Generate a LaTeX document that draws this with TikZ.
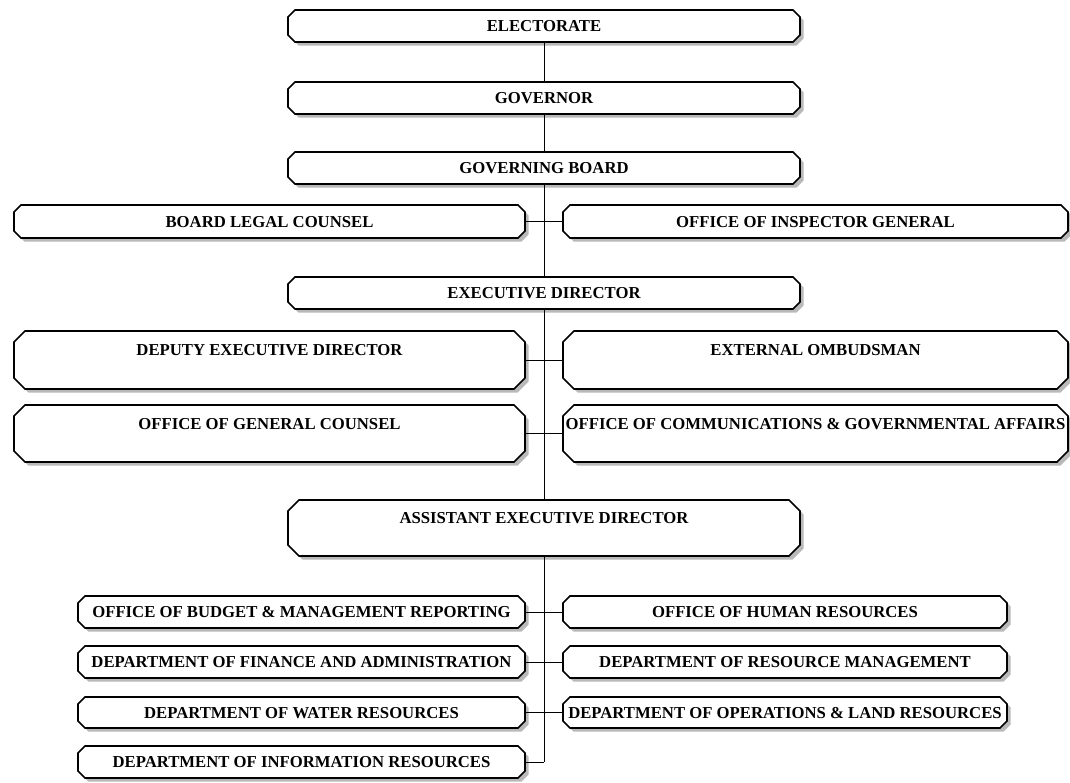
\documentclass[tikz,border=0pt]{standalone}
\usepackage{fontspec}
\setmainfont{Liberation Serif}
\tikzset{
  boxtext/.style={draw=none, inner sep=0pt, font=\fontsize{16.7}{19}\selectfont\bfseries,
    text height=11pt, text depth=0pt},
  tall/.style={text depth=20pt},
  boxline/.style={draw=black, line width=1.7pt, fill=white, line join=miter},
  boxshadow/.style={fill=gray!55},
  conn/.style={draw=black, line width=1pt}}
% #1 name, #2 cx, #3 cy, #4 w, #5 h, #6 chamfer, #7 extra style, #8 text
\newcommand\orgbox[8]{%
  \pgfmathsetmacro\xl{#2-#4/2}\pgfmathsetmacro\xr{#2+#4/2}%
  \pgfmathsetmacro\yt{#3-#5/2}\pgfmathsetmacro\yb{#3+#5/2}%
  \fill[boxshadow, shift={(3.5,3.5)}] (\xl+#6,\yt) -- (\xr-#6,\yt) -- (\xr,\yt+#6) -- (\xr,\yb-#6)
     -- (\xr-#6,\yb) -- (\xl+#6,\yb) -- (\xl,\yb-#6) -- (\xl,\yt+#6) -- cycle;
  \path[boxline] (\xl+#6,\yt) -- (\xr-#6,\yt) -- (\xr,\yt+#6) -- (\xr,\yb-#6)
     -- (\xr-#6,\yb) -- (\xl+#6,\yb) -- (\xl,\yb-#6) -- (\xl,\yt+#6) -- cycle;
  \node[boxtext, #7, minimum width=#4pt, minimum height=#5pt] (#1) at (#2,#3) {#8};}
\begin{document}
\begin{tikzpicture}[x=1pt,y=-1pt]
\useasboundingbox (0,0) rectangle (1070,782);
\fill[white] (0,0) rectangle (1070,782);
\orgbox{elec}{544}{26}{512}{32}{7}{}{ELECTORATE}
\orgbox{gov}{544}{98}{512}{32}{7}{}{GOVERNOR}
\orgbox{board}{544}{168}{512}{32}{7}{}{GOVERNING BOARD}
\orgbox{legal}{269.5}{221.5}{511}{33}{7}{}{BOARD LEGAL COUNSEL}
\orgbox{oig}{815.5}{221.5}{505}{33}{7}{}{OFFICE OF INSPECTOR GENERAL}
\orgbox{exec}{544}{293}{512}{32}{7}{}{EXECUTIVE DIRECTOR}
\orgbox{deputy}{269.5}{360}{511}{58}{11}{tall}{DEPUTY EXECUTIVE DIRECTOR}
\orgbox{omb}{815.5}{360}{505}{58}{11}{tall}{EXTERNAL OMBUDSMAN}
\orgbox{gc}{269.5}{433.5}{511}{57}{11}{tall}{OFFICE OF GENERAL COUNSEL}
\orgbox{comm}{815.5}{433.5}{505}{57}{11}{tall}{OFFICE OF COMMUNICATIONS \& GOVERNMENTAL AFFAIRS}
\orgbox{asst}{544}{528}{512}{56}{11}{tall}{ASSISTANT EXECUTIVE DIRECTOR}
\orgbox{budget}{301.5}{612}{447}{32}{7}{}{OFFICE OF BUDGET \& MANAGEMENT REPORTING}
\orgbox{hr}{785}{612}{444}{32}{7}{}{OFFICE OF HUMAN RESOURCES}
\orgbox{fin}{301.5}{662}{447}{32}{7}{}{DEPARTMENT OF FINANCE AND ADMINISTRATION}
\orgbox{rm}{785}{662}{444}{32}{7}{}{DEPARTMENT OF RESOURCE MANAGEMENT}
\orgbox{water}{301.5}{712.5}{447}{31}{7}{}{DEPARTMENT OF WATER RESOURCES}
\orgbox{ops}{785}{712.5}{444}{31}{7}{}{DEPARTMENT OF OPERATIONS \& LAND RESOURCES}
\orgbox{info}{301.5}{762}{447}{32}{7}{}{DEPARTMENT OF INFORMATION RESOURCES}
\coordinate (trunkend) at (544,762);
\draw[conn] (elec.south) -- (gov.north);
\draw[conn] (gov.south) -- (board.north);
\draw[conn] (board.south) -- (exec.north);
\draw[conn] (exec.south) -- (asst.north);
\draw[conn] (asst.south) -- (trunkend);
\draw[conn] (legal.east) -- (oig.west);
\draw[conn] (deputy.east) -- (omb.west);
\draw[conn] (gc.east) -- (comm.west);
\draw[conn] (budget.east) -- (hr.west);
\draw[conn] (fin.east) -- (rm.west);
\draw[conn] (water.east) -- (ops.west);
\draw[conn] (info.east) -- (trunkend);
\end{tikzpicture}
\end{document}
